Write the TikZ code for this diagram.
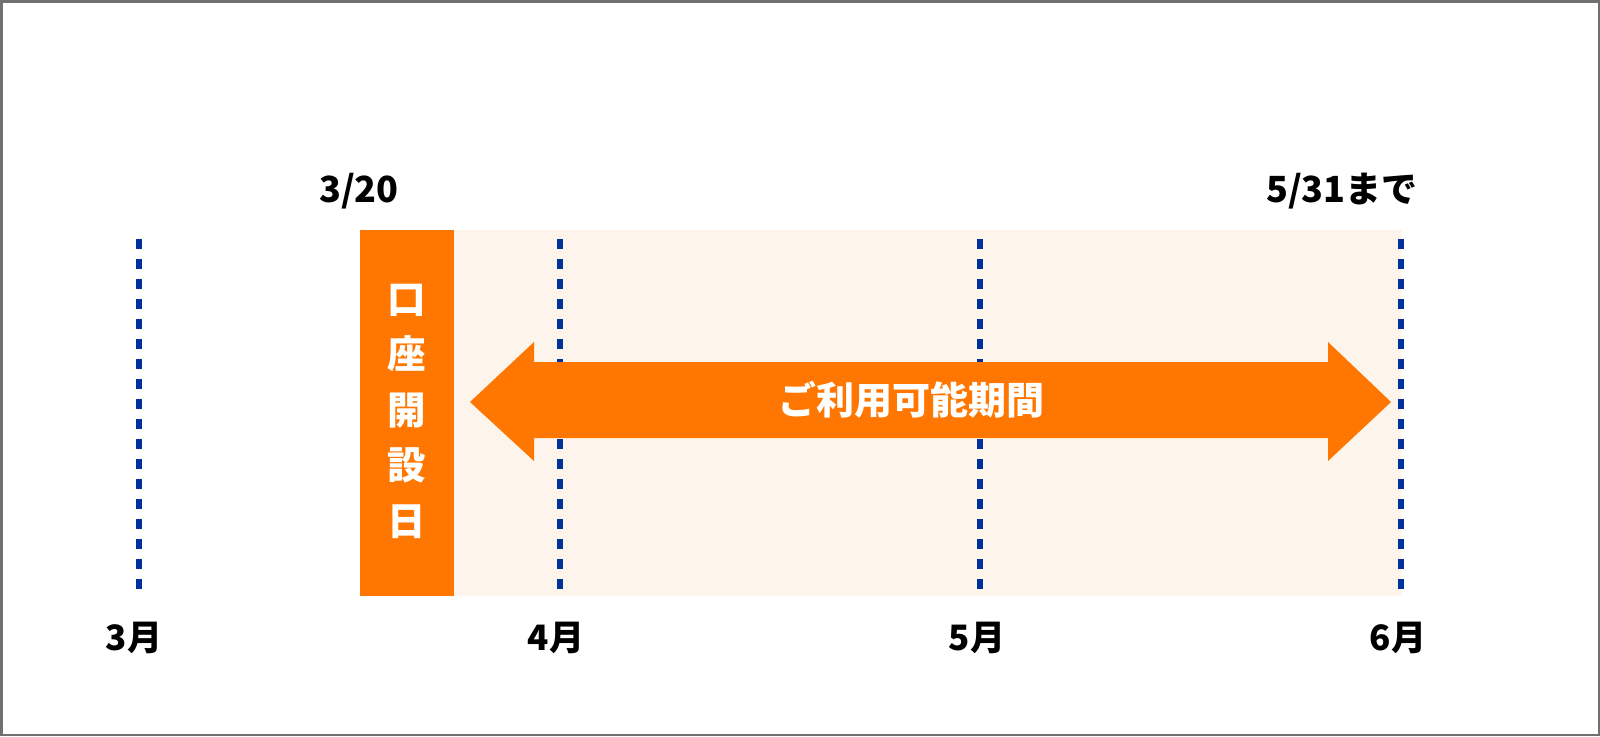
\documentclass[tikz,border=0pt]{standalone}
\usepackage{fontspec}
\setmainfont{Noto Sans CJK JP}
\definecolor{borderGray}{HTML}{707070}
\definecolor{accOrange}{HTML}{FF7700}
\definecolor{paleBeige}{HTML}{FDF5EC}
\definecolor{dotBlue}{HTML}{00309C}
\tikzset{
  monthline/.style={dotBlue, line width=5.5pt, dash pattern=on 10pt off 10pt},
  lbl/.style={font=\fontsize{35}{40}\selectfont\bfseries, text=black, inner sep=0pt, anchor=base},
  toplbl/.style={lbl, font=\fontsize{36}{40}\selectfont\bfseries},
  whitetxt/.style={text=white, inner sep=0pt}
}
\begin{document}
\begin{tikzpicture}[x=1pt,y=-1pt]
\useasboundingbox (0,0) rectangle (1600,736);
\fill[white] (0,0) rectangle (1600,736);
\draw[borderGray, line width=2.5pt] (1.25,1.25) rectangle (1598.75,734.75);
% period band
\fill[paleBeige] (454,230) rectangle (1402,596);
\node[fill=accOrange, minimum width=94pt, minimum height=366pt, inner sep=0pt, anchor=north west] (open) at (360,230) {};
% dotted month lines
\coordinate (m3t) at (139,239); \coordinate (m3b) at (139,590);
\coordinate (m4t) at (560,239); \coordinate (m4b) at (560,590);
\coordinate (m5t) at (980,239); \coordinate (m5b) at (980,590);
\coordinate (m6t) at (1401,239); \coordinate (m6b) at (1401,590);
\draw[monthline] (m3t) -- (m3b);
\draw[monthline] (m4t) -- (m4b);
\draw[monthline] (m5t) -- (m5b);
\draw[monthline] (m6t) -- (m6b);
% double arrow
\fill[accOrange] (470,402) -- (534,342) -- (534,362) -- (1328,362) -- (1328,342) -- (1391,402)
  -- (1328,461) -- (1328,438) -- (534,438) -- (534,461) -- cycle;
\node[whitetxt, font=\fontsize{38}{40}\selectfont\bfseries] (period) at (911,400) {ご利用可能期間};
% vertical label
\node[whitetxt, align=center, font=\fontsize{38.5}{55.5}\selectfont\bfseries] (vlabel) at (407,411) {口\\座\\開\\設\\日};
% top labels
\node[toplbl] (d320) at (359,202) {3/20};
\node[toplbl] (d531) at (1342,202) {5/31まで};
% month labels
\node[lbl] (l3) at (134,650) {3月};
\node[lbl] (l4) at (556,650) {4月};
\node[lbl] (l5) at (977,650) {5月};
\node[lbl] (l6) at (1398,650) {6月};
\end{tikzpicture}
\end{document}
